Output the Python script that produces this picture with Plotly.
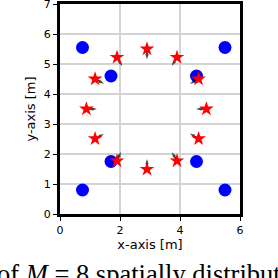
import plotly.graph_objects as go

# Anchor (blue) positions
anchor_x = [0.75, 1.70, 4.55, 5.50, 0.75, 1.70, 4.55, 5.50]
anchor_y = [5.55, 4.60, 4.60, 5.55, 0.80, 1.75, 1.75, 0.80]

# Red star positions
star_x = [2.90, 1.90, 1.17, 0.88, 1.17, 1.90, 2.90, 3.90, 4.62, 4.88, 4.62, 3.90]
star_y = [5.50, 5.22, 4.50, 3.50, 2.51, 1.77, 1.49, 1.77, 2.51, 3.50, 4.50, 5.22]

# Arrow displacements (tip relative to star)
arrow_dx = [0.00, 0.17, 0.30, 0.35, 0.29, 0.13, 0.00, -0.17, -0.29, -0.34, -0.29, -0.17]
arrow_dy = [-0.34, -0.29, -0.16, 0.00, 0.16, 0.30, 0.34, 0.29, 0.17, 0.00, -0.16, -0.28]

x_ticks = [0, 2, 4, 6]
y_ticks = [0, 1, 2, 3, 4, 5, 6, 7]

fig = go.Figure()
fig.add_trace(go.Scatter(x=anchor_x, y=anchor_y, mode="markers",
                         marker=dict(color="#0000ff", size=13, symbol="circle"),
                         showlegend=False))

# arrows (shaft + head) drawn beneath the stars
ax_list, ay_list, sizes = [], [], []
for x, y, dx, dy in zip(star_x, star_y, arrow_dx, arrow_dy):
    ax_list += [x, x + dx, None]
    ay_list += [y, y + dy, None]
    sizes += [0, 5.5, 0]
fig.add_trace(go.Scatter(x=ax_list, y=ay_list, mode="lines+markers",
                         line=dict(color="black", width=1.4),
                         marker=dict(symbol="arrow", size=sizes, color="black",
                                     angleref="previous", line=dict(width=0)),
                         showlegend=False, connectgaps=False))

fig.add_trace(go.Scatter(x=star_x, y=star_y, mode="markers",
                         marker=dict(color="#ff0000", size=11, symbol="star", line=dict(width=0)),
                         showlegend=False))

fig.add_annotation(x=-0.36, y=-0.205, xref="paper", yref="paper", xanchor="left",
                   yanchor="top", text="of <i>M</i> = 8 spatially distributed",
                   showarrow=False,
                   font=dict(family="Liberation Serif", size=26.5, color="black"))

axis_common = dict(showline=True, linecolor="black", linewidth=3, mirror=True,
                   showgrid=True, gridcolor="#d3d3d3", gridwidth=1.5,
                   ticks="outside", ticklen=4, tickwidth=1.2, tickcolor="black",
                   zeroline=False, automargin=False, ticklabeloverflow="allow",
                   tickfont=dict(family="DejaVu Sans", size=11, color="black"))

fig.update_layout(
    width=278, height=278,
    margin=dict(l=60, r=38, t=4, b=64),
    plot_bgcolor="white", paper_bgcolor="white",
    xaxis=dict(range=[0, 6], tickvals=x_ticks, ticktext=[str(v) for v in x_ticks],
               title=dict(text="x-axis [m]", standoff=1,
                          font=dict(family="DejaVu Sans", size=13, color="black")),
               **axis_common),
    yaxis=dict(range=[0, 7], tickvals=y_ticks, ticktext=[str(v) for v in y_ticks],
               title=dict(text="y-axis [m]", standoff=6,
                          font=dict(family="DejaVu Sans", size=13, color="black")),
               **axis_common),
)

fig.write_html("out.html", config={"displayModeBar": False},
               post_script="document.body.style.margin='0px';")
